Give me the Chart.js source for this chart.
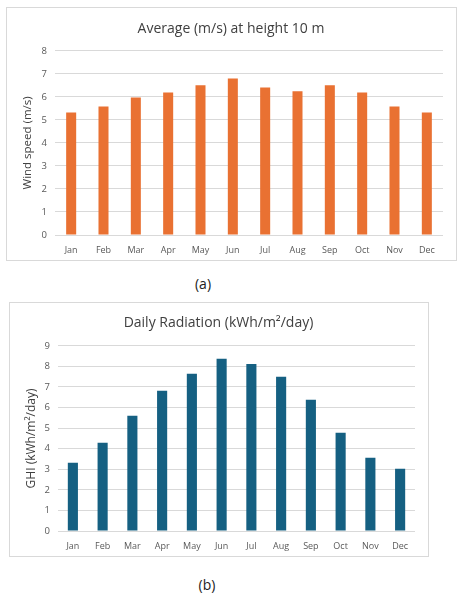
<!DOCTYPE html>
<html>
<head>
<meta charset="utf-8">
<script src="https://cdn.jsdelivr.net/npm/chart.js@4.4.1/dist/chart.umd.min.js"></script>
<style>
  body { margin: 0; background: #fff; width: 463px; height: 599px; position: relative; font-family: 'Open Sans', sans-serif; }
  .box { position: absolute; border: 1px solid #d9d9d9; background: #fff; }
  .cap { position: absolute; font-size: 14px; color: #222; transform: translate(-50%, -50%); }
</style>
</head>
<body>
<div class="box" style="left:6px; top:7px; width:449px; height:252px;"><canvas id="chartWind"></canvas></div>
<div class="cap" style="left:203px; top:283px;">(a)</div>
<div class="box" style="left:9px; top:302px; width:418px; height:253px;"><canvas id="chartGhi"></canvas></div>
<div class="cap" style="left:207px; top:584px;">(b)</div>
<script>
const months = ['Jan', 'Feb', 'Mar', 'Apr', 'May', 'Jun', 'Jul', 'Aug', 'Sep', 'Oct', 'Nov', 'Dec'];
const windSpeed = [5.32, 5.58, 5.97, 6.19, 6.5, 6.8, 6.41, 6.24, 6.5, 6.19, 5.58, 5.32];
const ghi = [3.32, 4.29, 5.6, 6.82, 7.64, 8.37, 8.12, 7.5, 6.38, 4.78, 3.56, 3.03];

Chart.defaults.font.family = 'Open Sans';
Chart.defaults.color = '#595959';

function barOptions(title, yTitle, yMax, barPct, yTitleSize, titleTop) {
  return {
    responsive: true,
    maintainAspectRatio: false,
    animation: false,
    layout: { padding: { left: 12, right: 13, top: 0, bottom: 0 } },
    plugins: {
      legend: { display: false },
      tooltip: { enabled: false },
      title: {
        display: true,
        text: title,
        color: '#404040',
        font: { size: 14, weight: 'normal' },
        padding: { top: titleTop, bottom: 26 - titleTop }
      }
    },
    datasets: { bar: { categoryPercentage: 1, barPercentage: barPct } },
    scales: {
      x: {
        grid: { display: false },
        border: { display: false },
        ticks: { font: { size: 9 }, color: '#595959', padding: 2 },
        afterFit: function(s) { s.height = 25; }
      },
      y: {
        min: 0,
        max: yMax,
        ticks: { stepSize: 1, font: { size: 9.5 }, color: '#595959', padding: 8 },
        grid: { color: '#d9d9d9', drawTicks: false },
        border: { display: false },
        title: { display: true, text: yTitle, color: '#404040', font: { size: yTitleSize }, padding: 2 },
        afterFit: function(s) { s.width = 36; }
      }
    }
  };
}

new Chart(document.getElementById('chartWind'), {
  type: 'bar',
  data: {
    labels: months,
    datasets: [{ label: 'Wind speed', data: windSpeed, backgroundColor: '#e97132' }]
  },
  options: barOptions('Average (m/s) at height 10 m', 'Wind speed (m/s)', 8, 0.31, 11.5, 13)
});

new Chart(document.getElementById('chartGhi'), {
  type: 'bar',
  data: {
    labels: months,
    datasets: [{ label: 'GHI', data: ghi, backgroundColor: '#156082' }]
  },
  options: barOptions('Daily Radiation (kWh/m\u00b2/day)', 'GHI (kWh/m\u00b2/day)', 9, 0.34, 12, 12)
});
</script>
</body>
</html>
